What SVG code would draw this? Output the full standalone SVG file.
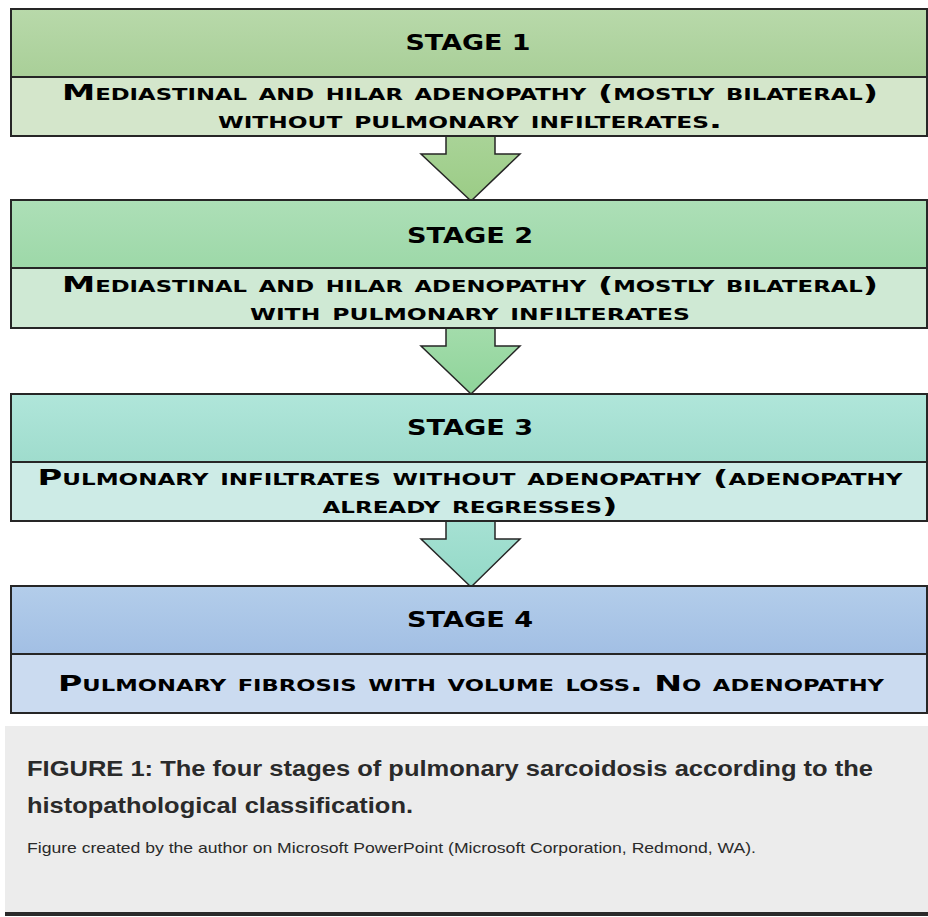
<svg xmlns="http://www.w3.org/2000/svg" width="928" height="917" viewBox="0 0 928 917">
<defs>
<linearGradient id="h1" x1="0" y1="0" x2="0" y2="1"><stop offset="0" stop-color="#b8d9aa"/><stop offset="1" stop-color="#a9cf98"/></linearGradient>
<linearGradient id="h2" x1="0" y1="0" x2="0" y2="1"><stop offset="0" stop-color="#addfb7"/><stop offset="1" stop-color="#9dd8a8"/></linearGradient>
<linearGradient id="h3" x1="0" y1="0" x2="0" y2="1"><stop offset="0" stop-color="#b0e6da"/><stop offset="1" stop-color="#9fdccd"/></linearGradient>
<linearGradient id="h4" x1="0" y1="0" x2="0" y2="1"><stop offset="0" stop-color="#b3cdea"/><stop offset="1" stop-color="#a2bfe4"/></linearGradient>
<linearGradient id="a1" x1="0" y1="0" x2="0" y2="1"><stop offset="0" stop-color="#a9d397"/><stop offset="1" stop-color="#9bcc86"/></linearGradient>
<linearGradient id="a2" x1="0" y1="0" x2="0" y2="1"><stop offset="0" stop-color="#a3dcab"/><stop offset="1" stop-color="#8fd49a"/></linearGradient>
<linearGradient id="a3" x1="0" y1="0" x2="0" y2="1"><stop offset="0" stop-color="#a6e1d3"/><stop offset="1" stop-color="#93d9c7"/></linearGradient>
</defs>
<style>
.box{stroke:#262626;stroke-width:2}
.hd{font-family:"DejaVu Sans",sans-serif;font-weight:bold;font-size:21px;fill:#000;text-anchor:middle}
.sb{font-family:"DejaVu Sans",sans-serif;font-weight:bold;font-size:22px;font-variant:small-caps;fill:#000;text-anchor:middle}
.arr{stroke:#262626;stroke-width:1.5}
.cap{font-family:"Liberation Sans",Arial,sans-serif;fill:#2a2a2a}
</style>
<rect x="0" y="0" width="928" height="917" fill="#ffffff"/>

<g id="connectors">
<polygon class="arr" fill="url(#a1)" points="446,136 495,136 495,154 520,154 471,201 421,154 446,154"/>
<polygon class="arr" fill="url(#a2)" points="446,328 495,328 495,346 520,346 471,394 421,346 446,346"/>
<polygon class="arr" fill="url(#a3)" points="446,521 495,521 495,539 520,539 471,587 421,539 446,539"/>
</g>

<g id="stage1">
<rect class="box" x="11" y="9" width="916" height="68" fill="url(#h1)"/>
<rect class="box" x="11" y="77" width="916" height="59" fill="#d4e6cb"/>
<text class="hd" x="468" y="50" textLength="125" lengthAdjust="spacingAndGlyphs">STAGE 1</text>
<text class="sb" x="470" y="100" textLength="816" lengthAdjust="spacingAndGlyphs">Mediastinal and hilar adenopathy (mostly bilateral)</text>
<text class="sb" x="470" y="128" textLength="504" lengthAdjust="spacingAndGlyphs">without pulmonary infilterates.</text>
</g>

<g id="stage2">
<rect class="box" x="11" y="200" width="916" height="68" fill="url(#h2)"/>
<rect class="box" x="11" y="268" width="916" height="60" fill="#cfe9d4"/>
<text class="hd" x="470" y="243" textLength="126" lengthAdjust="spacingAndGlyphs">STAGE 2</text>
<text class="sb" x="470" y="292" textLength="816" lengthAdjust="spacingAndGlyphs">Mediastinal and hilar adenopathy (mostly bilateral)</text>
<text class="sb" x="470" y="320" textLength="440" lengthAdjust="spacingAndGlyphs">with pulmonary infilterates</text>
</g>

<g id="stage3">
<rect class="box" x="11" y="394" width="916" height="68" fill="url(#h3)"/>
<rect class="box" x="11" y="462" width="916" height="59" fill="#cdebe6"/>
<text class="hd" x="470" y="435" textLength="126" lengthAdjust="spacingAndGlyphs">STAGE 3</text>
<text class="sb" x="470" y="485" textLength="865" lengthAdjust="spacingAndGlyphs">Pulmonary infiltrates without adenopathy (adenopathy</text>
<text class="sb" x="470" y="513" textLength="295" lengthAdjust="spacingAndGlyphs">already regresses)</text>
</g>

<g id="stage4">
<rect class="box" x="11" y="586" width="916" height="68" fill="url(#h4)"/>
<rect class="box" x="11" y="654" width="916" height="59" fill="#cbdbf0"/>
<text class="hd" x="470" y="627" textLength="126" lengthAdjust="spacingAndGlyphs">STAGE 4</text>
<text class="sb" x="471" y="691" textLength="826" lengthAdjust="spacingAndGlyphs">Pulmonary fibrosis with volume loss. No adenopathy</text>
</g>

<g id="caption">
<rect x="5" y="726" width="923" height="187" fill="#ececec"/>
<rect x="5" y="912" width="923" height="4" fill="#2a2a2a"/>
<text class="cap" x="27" y="776" font-size="22" font-weight="bold" textLength="846" lengthAdjust="spacingAndGlyphs">FIGURE 1: The four stages of pulmonary sarcoidosis according to the</text>
<text class="cap" x="27" y="813" font-size="22" font-weight="bold" textLength="386" lengthAdjust="spacingAndGlyphs">histopathological classification.</text>
<text class="cap" x="27" y="853" font-size="14.5" textLength="729" lengthAdjust="spacingAndGlyphs">Figure created by the author on Microsoft PowerPoint (Microsoft Corporation, Redmond, WA).</text>
</g>
</svg>
